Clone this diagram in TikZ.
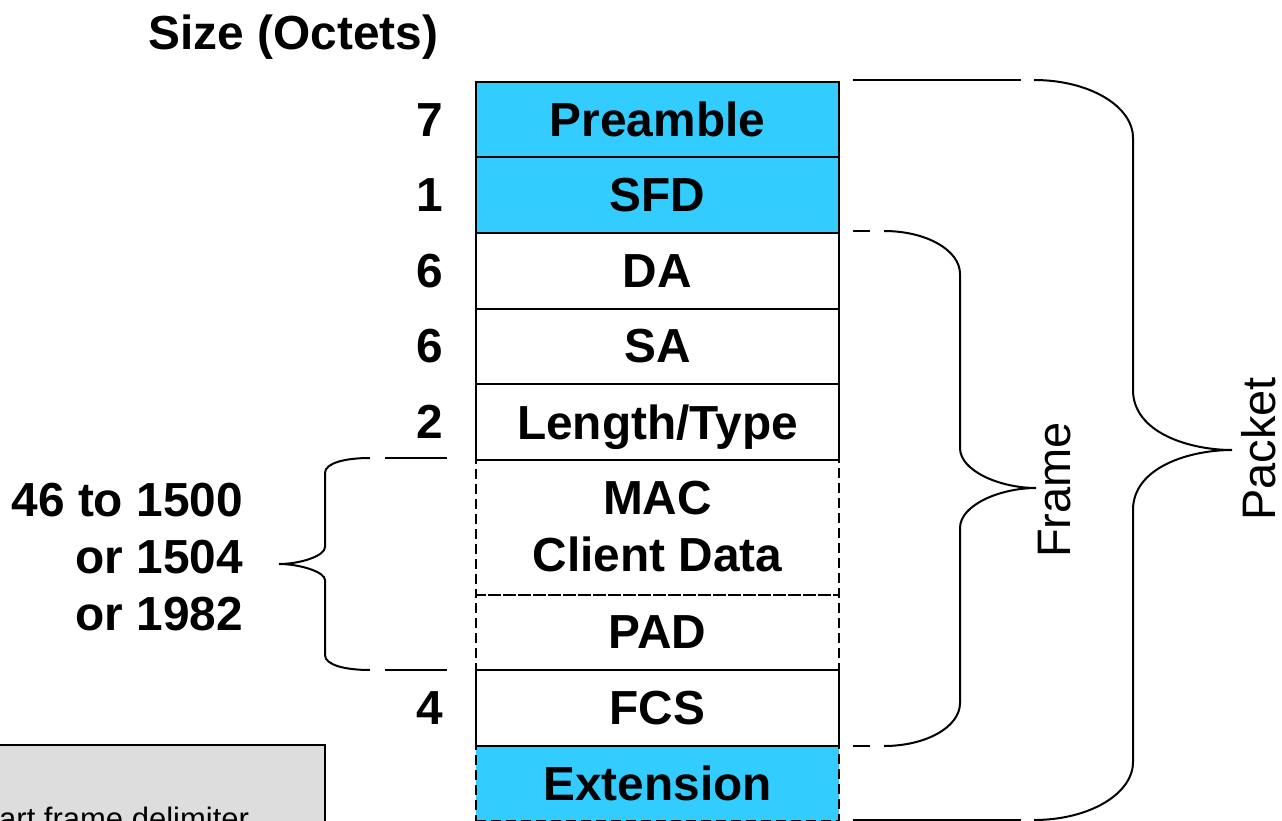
\documentclass[tikz,border=0pt]{standalone}
\usepackage{fontspec}
\setmainfont{Liberation Sans}
\usetikzlibrary{positioning, calc}

\definecolor{fieldcyan}{HTML}{33CCFF}
\definecolor{notegray}{HTML}{DDDDDD}

\tikzset{
  field/.style={draw, line width=2pt, minimum width=363pt, minimum height=75.5pt,
    inner sep=0pt, outer sep=0pt, font=\bfseries\fontsize{47.8}{57}\selectfont},
  optfield/.style={field, dash pattern=on 10pt off 5pt},
  octets/.style={anchor=east, inner sep=0pt, font=\bfseries\fontsize{47.8}{57}\selectfont},
  bracelabel/.style={rotate=90, inner sep=0pt, font=\fontsize{47}{57}\selectfont},
  brace/.style={line width=2pt},
}

\begin{document}
\begin{tikzpicture}[x=1pt, y=-1pt, node distance=0pt]
    \useasboundingbox (0,0) rectangle (1282,821);
    \clip (0,0) rectangle (1282,821);

    % Title
    \node[anchor=base, inner sep=0pt, font=\bfseries\fontsize{47.8}{57}\selectfont] (title) at (293.5,50) {Size (Octets)};

    % Frame fields
    \node[field, fill=fieldcyan] (pre) at (657.5,119.75) {Preamble};
    \node[field, fill=fieldcyan, below=of pre] (sfd) {SFD};
    \node[field, below=of sfd] (da) {DA};
    \node[field, below=of da] (sa) {SA};
    \node[field, text depth=0pt, below=of sa] (lt) {Length/Type};
    \node[optfield, minimum height=135pt, align=center, below=of lt] (mac) {MAC\\Client Data};
    \node[optfield, below=of mac] (pad) {PAD};
    \node[field, below=of pad] (fcs) {FCS};
    \node[optfield, fill=fieldcyan, minimum height=75pt, below=of fcs] (ext) {Extension};
    \draw[line width=2pt] (ext.north west) -- (ext.north east);

    % Sizes
    \node[octets, left=33pt of pre] (o-pre) {7};
    \node[octets, left=33pt of sfd] (o-sfd) {1};
    \node[octets, left=33pt of da] (o-da) {6};
    \node[octets, left=33pt of sa] (o-sa) {6};
    \node[octets, left=33pt of lt] (o-lt) {2};
    \node[octets, left=33pt of fcs] (o-fcs) {4};
    \node[octets, align=right] (o-mac) at (243,557) {46 to 1500\\or 1504\\or 1982};

    % Brace for MAC client data + PAD
    \draw[brace] (447,458) -- (385,458);
    \draw[brace] (370,458) .. controls (345,458) and (325,463) .. (325,473) -- (325,547)
        .. controls (325,556) and (300,564) .. (279,564)
        .. controls (300,564) and (325,572) .. (325,580) -- (325,655)
        .. controls (325,665) and (345,670) .. (370,670);
    \draw[brace] (385,670) -- (447,670);

    % Frame brace
    \draw[brace] (853,231) -- (870,231);
    \draw[brace] (884,231) .. controls (926,231) and (960,250) .. (960,274) -- (960,448)
        .. controls (960,471) and (1000,488) .. (1036,488)
        .. controls (1000,488) and (960,505) .. (960,528) -- (960,703)
        .. controls (960,727) and (926,746) .. (884,746);
    \draw[brace] (870,746) -- (853,746);
    \node[bracelabel] (frame) at (1055,490) {Frame};

    % Packet brace
    \draw[brace] (853,80) -- (1021,80);
    \draw[brace] (1034,80) .. controls (1089,80) and (1133,106) .. (1133,138) -- (1133,390)
        .. controls (1133,433) and (1190,450) .. (1232,450)
        .. controls (1190,450) and (1133,467) .. (1133,510) -- (1133,762)
        .. controls (1133,794) and (1089,820) .. (1034,820);
    \draw[brace] (1021,820) -- (853,820);
    \node[bracelabel] (packet) at (1259,449) {Packet};

    % Note box
    \draw[line width=1.5pt, fill=notegray] (-10,745) rectangle (325,840);
    \node[anchor=base west, inner sep=0pt, font=\fontsize{31}{36}\selectfont] (note) at (-1,829.5) {art frame delimiter};
\end{tikzpicture}
\end{document}
